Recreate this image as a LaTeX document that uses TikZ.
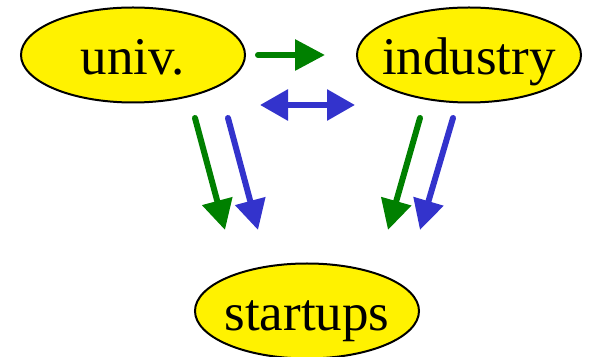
\documentclass[tikz,border=0pt]{standalone}
\usepackage{fontspec}
\setmainfont{Liberation Serif}
\usetikzlibrary{arrows.meta,shapes.geometric}
\definecolor{flowgreen}{RGB}{0,128,0}
\definecolor{flowblue}{RGB}{51,51,204}

\begin{document}
\begin{tikzpicture}[x=0.5pt, y=-0.5pt,
      font=\fontsize{26.5}{30}\selectfont,
      actor/.style={ellipse, draw, fill=yellow, line width=1pt,
                    minimum width=112pt, minimum height=47.5pt,
                    inner xsep=-6pt, inner ysep=0pt,
                    text height=22pt, text depth=2pt},
      flow/.style={line width=3pt, line cap=round},
      gflow/.style={flow, draw=flowgreen, -{Triangle[length=15pt, width=15pt]}},
      bflow/.style={flow, draw=flowblue, -{Triangle[length=15pt, width=15pt]}},
      bboth/.style={flow, draw=flowblue, {Triangle[length=14pt, width=15pt]}-{Triangle[length=14pt, width=15pt]}}]
    \useasboundingbox (0,0) rectangle (590,357);
    \node[actor] (univ) at (133,55) {univ.};
    \node[actor] (industry) at (469,55) {industry};
    \node[actor] (startups) at (307,311) {startups};
    % free ends of the flows
    \coordinate (ui-a) at (258,55);
    \coordinate (ui-b) at (325,55);
    \coordinate (iu-a) at (260,105);
    \coordinate (iu-b) at (355,105);
    \coordinate (us-ga) at (195,118);
    \coordinate (us-gb) at (225,230);
    \coordinate (us-ba) at (228,118);
    \coordinate (us-bb) at (258,230);
    \coordinate (is-ga) at (420,118);
    \coordinate (is-gb) at (388,230);
    \coordinate (is-ba) at (453,118);
    \coordinate (is-bb) at (420,230);
    \draw[gflow] (ui-a) -- (ui-b);
    \draw[bboth] (iu-a) -- (iu-b);
    \draw[gflow] (us-ga) -- (us-gb);
    \draw[bflow] (us-ba) -- (us-bb);
    \draw[gflow] (is-ga) -- (is-gb);
    \draw[bflow] (is-ba) -- (is-bb);
\end{tikzpicture}
\end{document}
